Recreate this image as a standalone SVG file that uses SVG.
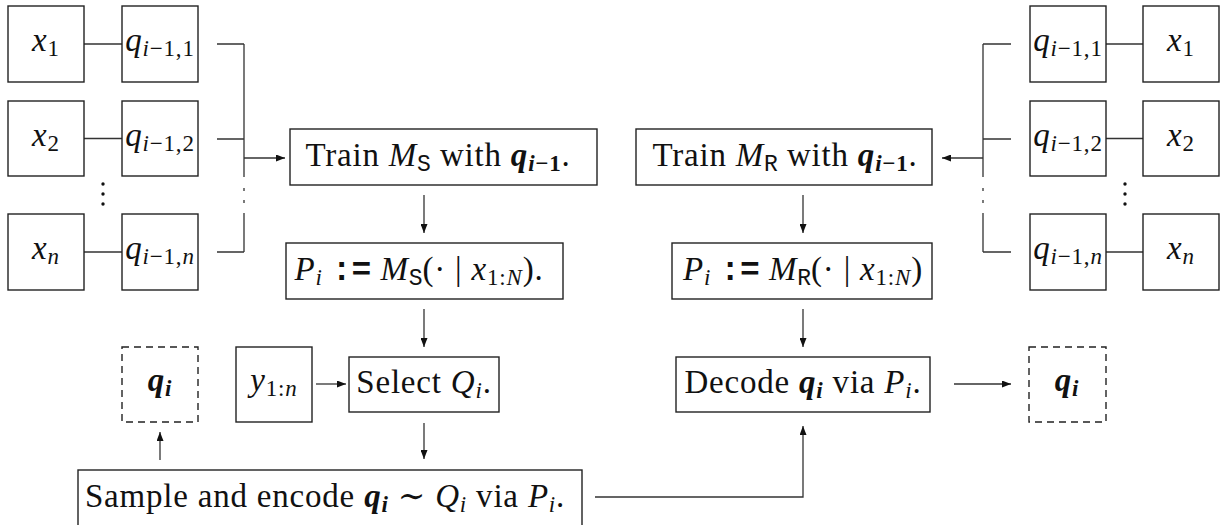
<svg xmlns="http://www.w3.org/2000/svg" width="1230" height="525" viewBox="0 0 1230 525">
<style>
.box{fill:none;stroke:#222;stroke-width:1.4}
.dash{fill:none;stroke:#222;stroke-width:1.4;stroke-dasharray:7 5}
.ln{fill:none;stroke:#333;stroke-width:1.3}
.arr{marker-end:url(#ah)}
text{font-family:"Liberation Serif","DejaVu Serif",serif;font-size:33px;letter-spacing:0.8px;fill:#111;text-anchor:middle}
.it{font-style:italic}
.bi{font-style:italic;font-weight:bold}
.b{font-weight:bold}
.sub{font-size:23px}
.tt{font-family:"Liberation Mono",monospace;letter-spacing:0}
.dot{fill:#111}
</style>
<defs>
<marker id="ah" markerWidth="9" markerHeight="7" refX="9" refY="3.5" orient="auto" markerUnits="userSpaceOnUse"><path d="M0,0 L9,3.5 L0,7 z" fill="#111"/></marker>
</defs>
<rect width="1230" height="525" fill="#fff"/>

<g id="connectors">
<path class="ln" d="M84,44H122M84,138.5H122M84,252H122"/>
<path class="ln" d="M217,44H244M217,139H244M217,252H244M244,44V177M244,188V191M244,200V203M244,213V252"/>
<path class="ln arr" d="M244,158H285"/>
<path class="ln" d="M1106,44H1143M1106,138.5H1143M1106,252H1143"/>
<path class="ln" d="M1011,44H983M1011,139H983M1011,252H983M983,44V177M983,188V191M983,200V203M983,213V252"/>
<path class="ln arr" d="M983,158H942"/>
<path class="ln arr" d="M424,195V233"/>
<path class="ln arr" d="M424,309V347"/>
<path class="ln arr" d="M316,384H346"/>
<path class="ln arr" d="M424,423V459"/>
<path class="ln arr" d="M160,460V432"/>
<path class="ln arr" d="M595,497H803V426"/>
<path class="ln arr" d="M803,195V233"/>
<path class="ln arr" d="M803,309V347"/>
<path class="ln arr" d="M954,384H1011"/>
<circle class="dot" cx="103" cy="184" r="1.7"/><circle class="dot" cx="103" cy="194" r="1.7"/><circle class="dot" cx="103" cy="204" r="1.7"/>
<circle class="dot" cx="1125" cy="184" r="1.7"/><circle class="dot" cx="1125" cy="194" r="1.7"/><circle class="dot" cx="1125" cy="204" r="1.7"/>
</g>

<g id="x1L"><rect class="box" x="8" y="6" width="76" height="76"/><text x="46" y="51"><tspan class="it">x</tspan><tspan class="sub" dy="5">1</tspan></text></g>
<g id="q1L"><rect class="box" x="122" y="6" width="76" height="76"/><text x="160" y="51"><tspan class="it">q</tspan><tspan class="sub" dy="5"><tspan class="it">i</tspan>−1,1</tspan></text></g>
<g id="x2L"><rect class="box" x="8" y="101" width="76" height="75"/><text x="46" y="146"><tspan class="it">x</tspan><tspan class="sub" dy="5">2</tspan></text></g>
<g id="q2L"><rect class="box" x="122" y="101" width="76" height="75"/><text x="160" y="146"><tspan class="it">q</tspan><tspan class="sub" dy="5"><tspan class="it">i</tspan>−1,2</tspan></text></g>
<g id="xnL"><rect class="box" x="8" y="214" width="76" height="76"/><text x="46" y="259"><tspan class="it">x</tspan><tspan class="sub it" dy="5">n</tspan></text></g>
<g id="qnL"><rect class="box" x="122" y="214" width="76" height="76"/><text x="160" y="259"><tspan class="it">q</tspan><tspan class="sub" dy="5"><tspan class="it">i</tspan>−1,<tspan class="it">n</tspan></tspan></text></g>

<g id="q1R"><rect class="box" x="1030" y="6" width="76" height="76"/><text x="1068" y="51"><tspan class="it">q</tspan><tspan class="sub" dy="5"><tspan class="it">i</tspan>−1,1</tspan></text></g>
<g id="x1R"><rect class="box" x="1143" y="6" width="76" height="76"/><text x="1181" y="51"><tspan class="it">x</tspan><tspan class="sub" dy="5">1</tspan></text></g>
<g id="q2R"><rect class="box" x="1030" y="101" width="76" height="75"/><text x="1068" y="146"><tspan class="it">q</tspan><tspan class="sub" dy="5"><tspan class="it">i</tspan>−1,2</tspan></text></g>
<g id="x2R"><rect class="box" x="1143" y="101" width="76" height="75"/><text x="1181" y="146"><tspan class="it">x</tspan><tspan class="sub" dy="5">2</tspan></text></g>
<g id="qnR"><rect class="box" x="1030" y="214" width="76" height="76"/><text x="1068" y="259"><tspan class="it">q</tspan><tspan class="sub" dy="5"><tspan class="it">i</tspan>−1,<tspan class="it">n</tspan></tspan></text></g>
<g id="xnR"><rect class="box" x="1143" y="214" width="76" height="76"/><text x="1181" y="259"><tspan class="it">x</tspan><tspan class="sub it" dy="5">n</tspan></text></g>

<g id="trainS"><rect class="box" x="290" y="129" width="307" height="56"/><text x="438" y="166">Train <tspan class="it">M</tspan><tspan class="sub tt" dy="5">S</tspan><tspan dy="-5"> with </tspan><tspan class="bi">q</tspan><tspan class="sub b" dy="5"><tspan class="bi">i</tspan>−1</tspan><tspan dy="-5">.</tspan></text></g>
<g id="PS"><rect class="box" x="286" y="243" width="277" height="56"/><text x="419" y="280"><tspan class="it">P</tspan><tspan class="sub it" dy="5">i</tspan><tspan dy="-5"> </tspan><tspan class="tt b">:=</tspan> <tspan class="it">M</tspan><tspan class="sub tt" dy="5">S</tspan><tspan dy="-5">(· | </tspan><tspan class="it">x</tspan><tspan class="sub" dy="5">1:<tspan class="it">N</tspan></tspan><tspan dy="-5">).</tspan></text></g>
<g id="select"><rect class="box" x="349" y="357" width="150" height="55"/><text x="424" y="393">Select <tspan class="it">Q</tspan><tspan class="sub it" dy="5">i</tspan><tspan dy="-5">.</tspan></text></g>
<g id="y"><rect class="box" x="236" y="347" width="76" height="75"/><text x="274" y="391"><tspan class="it">y</tspan><tspan class="sub" dy="5">1:<tspan class="it">n</tspan></tspan></text></g>
<g id="qiL"><rect class="dash" x="122" y="347" width="76" height="75"/><text x="160" y="391"><tspan class="bi">q</tspan><tspan class="sub bi" dy="5">i</tspan></text></g>
<g id="sample"><rect class="box" x="78" y="470" width="504" height="70"/><text x="325" y="507">Sample and encode <tspan class="bi">q</tspan><tspan class="sub bi" dy="5">i</tspan><tspan dy="-5"> ∼ </tspan><tspan class="it">Q</tspan><tspan class="sub it" dy="5">i</tspan><tspan dy="-5"> via </tspan><tspan class="it">P</tspan><tspan class="sub it" dy="5">i</tspan><tspan dy="-5">.</tspan></text></g>

<g id="trainR"><rect class="box" x="636" y="129" width="296" height="56"/><text x="785" y="166">Train <tspan class="it">M</tspan><tspan class="sub tt" dy="5">R</tspan><tspan dy="-5"> with </tspan><tspan class="bi">q</tspan><tspan class="sub b" dy="5"><tspan class="bi">i</tspan>−1</tspan><tspan dy="-5">.</tspan></text></g>
<g id="PR"><rect class="box" x="672" y="243" width="260" height="56"/><text x="803" y="280"><tspan class="it">P</tspan><tspan class="sub it" dy="5">i</tspan><tspan dy="-5"> </tspan><tspan class="tt b">:=</tspan> <tspan class="it">M</tspan><tspan class="sub tt" dy="5">R</tspan><tspan dy="-5">(· | </tspan><tspan class="it">x</tspan><tspan class="sub" dy="5">1:<tspan class="it">N</tspan></tspan><tspan dy="-5">)</tspan></text></g>
<g id="decode"><rect class="box" x="676" y="357" width="254" height="55"/><text x="803" y="393">Decode <tspan class="bi">q</tspan><tspan class="sub bi" dy="5">i</tspan><tspan dy="-5"> via </tspan><tspan class="it">P</tspan><tspan class="sub it" dy="5">i</tspan><tspan dy="-5">.</tspan></text></g>
<g id="qiR"><rect class="dash" x="1029" y="347" width="77" height="75"/><text x="1067" y="391"><tspan class="bi">q</tspan><tspan class="sub bi" dy="5">i</tspan></text></g>
</svg>
